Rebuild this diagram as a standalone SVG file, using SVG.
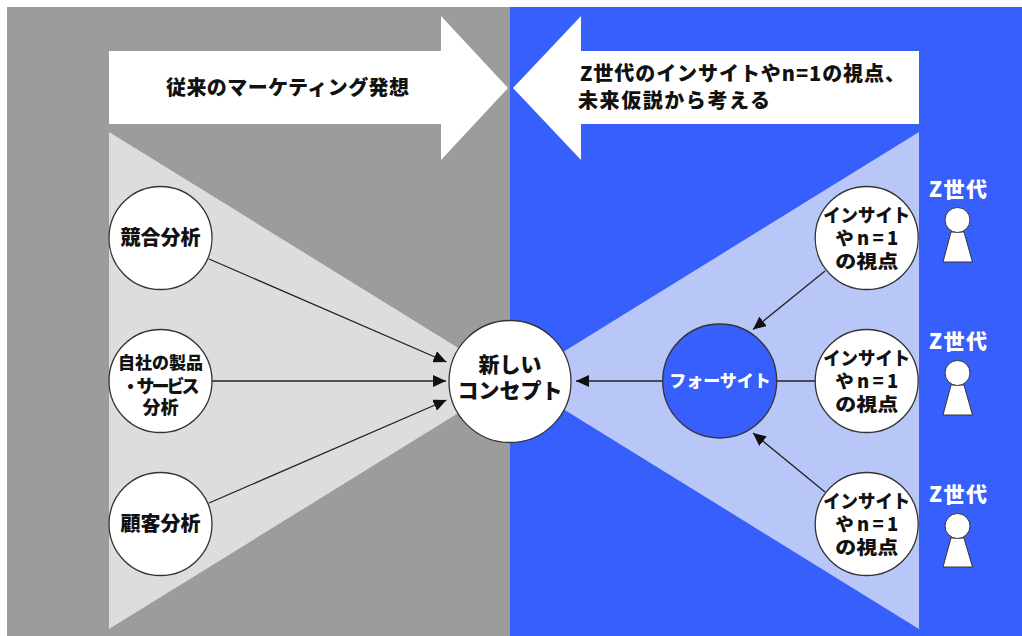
<svg xmlns="http://www.w3.org/2000/svg" width="1022" height="636" viewBox="0 0 1022 636">
<style>
text{font-family:"Noto Sans CJK JP","Noto Sans",sans-serif;font-weight:900;fill:#111;text-anchor:middle}
.w{fill:#fff}
.a{font-size:20px;text-anchor:start}
.s{font-size:20px}
.t{font-size:18px}
.n{font-size:18.5px}
.z{font-size:21px}
.c{fill:#fff;stroke:#333;stroke-width:1.3}
.p{fill:#fff;stroke:#333;stroke-width:1}
.l{fill:none;stroke:#222;stroke-width:1.3}
.m{marker-end:url(#h)}
</style>
<defs>
<marker id="h" markerUnits="userSpaceOnUse" markerWidth="14" markerHeight="12" refX="13" refY="6" orient="auto"><path d="M0 0L13 6L0 12Z" fill="#111"/></marker>
</defs>
<rect width="1022" height="636" fill="#fff"/>
<rect x="7" y="7" width="503" height="629" fill="#9c9c9c"/>
<rect x="510" y="7" width="512" height="629" fill="#365ffb"/>
<path d="M109 132V629L511 380.500Z" fill="#dcdddd"/>
<path d="M919 132V629L517 380.500Z" fill="#b9c7f8"/>
<g id="arrow-left"><path d="M109 51H441V16L508 88L441 160V124H109Z" fill="#fff"/><text class="a" x="166" y="95" textLength="243">従来のマーケティング発想</text></g>
<g id="arrow-right"><path d="M919 51H581V16L513 88L581 160V124H919Z" fill="#fff"/><text class="a"><tspan x="580" y="81" textLength="325">Z世代のインサイトやn=1の視点、</tspan><tspan x="578" y="108" textLength="192">未来仮説から考える</tspan></text></g>
<g id="connectors">
<path class="l m" d="M209 259L446.500 362"/>
<path class="l m" d="M212 381H446"/>
<path class="l m" d="M209 503L446.500 400"/>
<path class="l m" d="M663 381H576"/>
<path class="l" d="M777 381H816"/>
<path class="l m" d="M825 271L753 329.500"/>
<path class="l m" d="M825 492L753 433"/>
</g>
<g id="n1"><circle class="c" cx="160.500" cy="238" r="51.500"/><text class="s" x="160.500" y="245">競合分析</text></g>
<g id="n2"><circle class="c" cx="160.500" cy="381" r="51.500"/><text class="t"><tspan x="160.500" y="369" style="font-size:17px">自社の製品</tspan><tspan x="160.500" y="393" textLength="78">・サービス</tspan><tspan x="160.500" y="414">分析</tspan></text></g>
<g id="n3"><circle class="c" cx="160.500" cy="524" r="51.500"/><text class="s" x="160.500" y="531">顧客分析</text></g>
<g id="center"><circle class="c" cx="510" cy="381.500" r="61"/><text style="font-size:21px"><tspan x="510" y="372">新しい</tspan><tspan x="510" y="398">コンセプト</tspan></text></g>
<g id="foresight"><circle cx="719.700" cy="381" r="57" fill="#365ffb" stroke="#333" stroke-width="1.300"/><text class="w" x="720" y="387" style="font-size:17px">フォーサイト</text></g>
<g id="i1"><circle class="c" cx="866.700" cy="238" r="51.500"/><text class="n"><tspan x="866.700" y="221.500" textLength="87" lengthAdjust="spacingAndGlyphs">インサイト</tspan><tspan x="866.700" y="244.500" textLength="63">やn=1</tspan><tspan x="866.700" y="267.500" textLength="63" lengthAdjust="spacingAndGlyphs">の視点</tspan></text></g>
<g id="i2"><circle class="c" cx="866.700" cy="381" r="51.500"/><text class="n"><tspan x="866.700" y="364.500" textLength="87" lengthAdjust="spacingAndGlyphs">インサイト</tspan><tspan x="866.700" y="387.500" textLength="63">やn=1</tspan><tspan x="866.700" y="410.500" textLength="63" lengthAdjust="spacingAndGlyphs">の視点</tspan></text></g>
<g id="i3"><circle class="c" cx="866.700" cy="524" r="51.500"/><text class="n"><tspan x="866.700" y="507.500" textLength="87" lengthAdjust="spacingAndGlyphs">インサイト</tspan><tspan x="866.700" y="530.500" textLength="63">やn=1</tspan><tspan x="866.700" y="553.500" textLength="63" lengthAdjust="spacingAndGlyphs">の視点</tspan></text></g>
<g id="p1"><text class="w z" x="958" y="197" textLength="58">Z世代</text><path class="p" d="M951 232L943 262H972.500L964 232Z"/><circle class="p" cx="957.500" cy="220" r="12.500"/></g>
<g id="p2"><text class="w z" x="958" y="349" textLength="58">Z世代</text><path class="p" d="M951 385L943 415H972.500L964 385Z"/><circle class="p" cx="957.500" cy="373" r="12.500"/></g>
<g id="p3"><text class="w z" x="958" y="502" textLength="58">Z世代</text><path class="p" d="M951 538L943 567H972.500L964 538Z"/><circle class="p" cx="957.500" cy="526" r="12.500"/></g>
</svg>
